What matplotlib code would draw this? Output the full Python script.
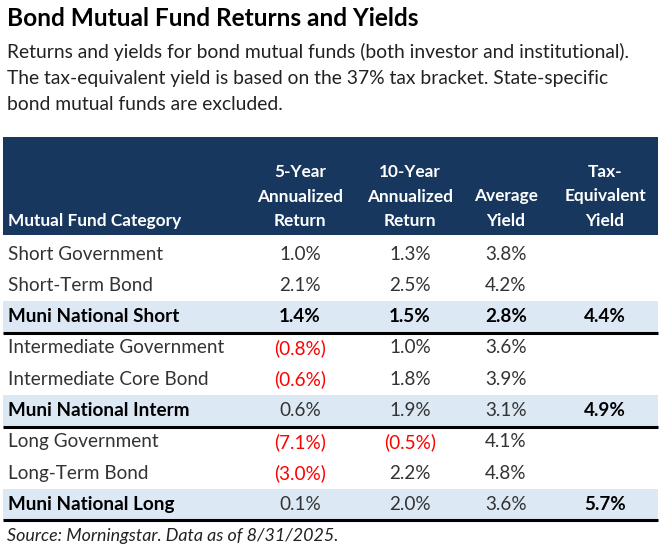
import matplotlib.pyplot as plt
from matplotlib.patches import Rectangle

plt.rcParams['font.family'] = ['Lato', 'DejaVu Sans']

title = "Bond Mutual Fund Returns and Yields"
subtitle = ["Returns and yields for bond mutual funds (both investor and institutional).",
            "The tax-equivalent yield is based on the 37% tax bracket. State-specific",
            "bond mutual funds are excluded."]
headers = ["Mutual Fund Category", "5-Year\nAnnualized\nReturn", "10-Year\nAnnualized\nReturn",
           "Average\nYield", "Tax-\nEquivalent\nYield"]
categories = ["Short Government", "Short-Term Bond", "Muni National Short",
              "Intermediate Government", "Intermediate Core Bond", "Muni National Interm",
              "Long Government", "Long-Term Bond", "Muni National Long"]
ret_5y = [1.0, 2.1, 1.4, -0.8, -0.6, 0.6, -7.1, -3.0, 0.1]
ret_10y = [1.3, 2.5, 1.5, 1.0, 1.8, 1.9, -0.5, 2.2, 2.0]
avg_yield = [3.8, 4.2, 2.8, 3.6, 3.9, 3.1, 4.1, 4.8, 3.6]
tax_eq_yield = [None, None, 4.4, None, None, 4.9, None, None, 5.7]
bold_rows = [2]          # fully bold row
muni_rows = [2, 5, 8]    # shaded rows
source = "Source: Morningstar. Data as of 8/31/2025."

NAVY = "#17375e"
SHADE = "#dde8f5"

W, H = 661, 554
fig = plt.figure(figsize=(W / 100, H / 100), dpi=100)
ax = fig.add_axes([0, 0, 1, 1])
ax.set_xlim(0, W)
ax.set_ylim(H, 0)
ax.axis("off")

ax.text(7, 18, title, fontsize=17.6, fontweight="bold", va="center", ha="left", color="black")
for i, line in enumerate(subtitle):
    ax.text(7, 52 + i * 26.5, line, fontsize=13.9, va="center", ha="left", color="#222222")

# header block
ax.add_patch(Rectangle((3, 137), 655, 98, color=NAVY, lw=0))
col_x = [8, 300, 410, 506, 605]
ax.text(col_x[0], 221, headers[0], fontsize=12.4, fontweight="bold", color="white",
        va="center", ha="left")
for x, h in zip(col_x[1:], headers[1:]):
    lines = h.split("\n")
    for j, ln in enumerate(reversed(lines)):
        ax.text(x, 221 - j * 24.5, ln, fontsize=12.4, fontweight="bold", color="white",
                va="center", ha="center")

def fmt(v):
    if v is None:
        return "", "black"
    if v < 0:
        return "({:.1f}%)".format(-v), "#ff0000"
    return "{:.1f}%".format(v), "black"

row0 = 254
row_h = 31.3
for i, cat in enumerate(categories):
    y = row0 + i * row_h
    if i in muni_rows:
        ax.add_patch(Rectangle((3, y - 15.5), 655, 31, color=SHADE, lw=0, zorder=0))
        ax.plot([3, 658], [y + 16, y + 16], color="black", lw=2.2, solid_capstyle="butt")
    cat_w = "bold" if i in muni_rows else "normal"
    cat_c = "black" if i in muni_rows else "#333333"
    ax.text(col_x[0], y, cat, fontsize=13.6, fontweight=cat_w, color=cat_c, va="center", ha="left")
    vals = [ret_5y[i], ret_10y[i], avg_yield[i], tax_eq_yield[i]]
    for k, (x, v) in enumerate(zip(col_x[1:], vals)):
        s, c = fmt(v)
        wt = "bold" if (i in bold_rows or k == 3) else "normal"
        if c == "black" and wt == "normal":
            c = "#333333"
        ax.text(x, y, s, fontsize=13.6, fontweight=wt, color=c, va="center", ha="center")

ax.text(7, 536, source, fontsize=12.9, fontstyle="italic", color="#222222", va="center", ha="left")

fig.savefig("out.png", dpi=100)
